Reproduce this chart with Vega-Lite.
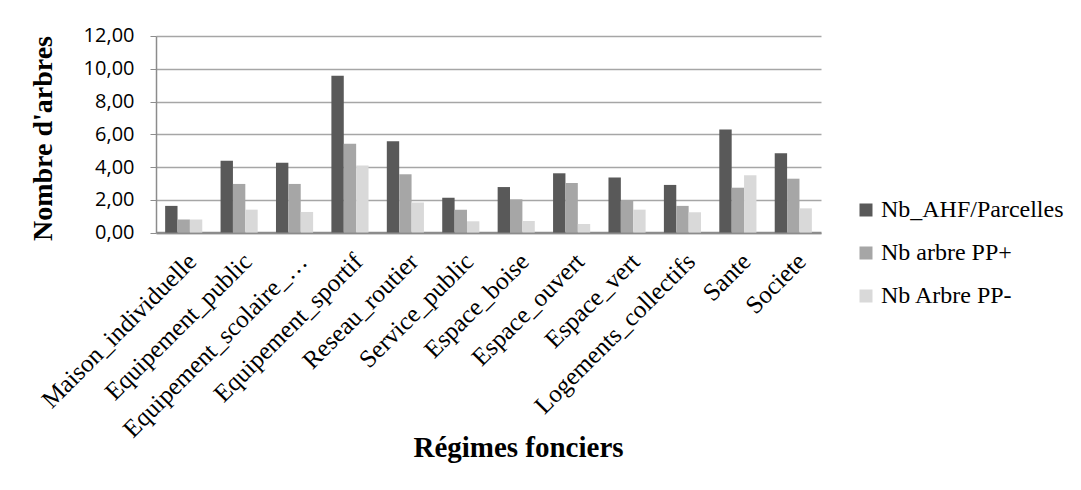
{
  "$schema": "https://vega.github.io/schema/vega-lite/v6.json",
  "autosize": "none",
  "width": 665,
  "height": 196.6,
  "padding": {"left": 156, "top": 36, "right": 260, "bottom": 258},
  "background": "white",
  "data": {
    "values": [
      {"cat": "Maison_individuelle", "serie": "Nb_AHF/Parcelles", "v": 1.63},
      {"cat": "Maison_individuelle", "serie": "Nb arbre PP+", "v": 0.80},
      {"cat": "Maison_individuelle", "serie": "Nb Arbre PP-", "v": 0.80},
      {"cat": "Equipement_public", "serie": "Nb_AHF/Parcelles", "v": 4.39},
      {"cat": "Equipement_public", "serie": "Nb arbre PP+", "v": 2.97},
      {"cat": "Equipement_public", "serie": "Nb Arbre PP-", "v": 1.40},
      {"cat": "Equipement_scolaire_…", "serie": "Nb_AHF/Parcelles", "v": 4.27},
      {"cat": "Equipement_scolaire_…", "serie": "Nb arbre PP+", "v": 2.97},
      {"cat": "Equipement_scolaire_…", "serie": "Nb Arbre PP-", "v": 1.26},
      {"cat": "Equipement_sportif", "serie": "Nb_AHF/Parcelles", "v": 9.57},
      {"cat": "Equipement_sportif", "serie": "Nb arbre PP+", "v": 5.43},
      {"cat": "Equipement_sportif", "serie": "Nb Arbre PP-", "v": 4.09},
      {"cat": "Reseau_routier", "serie": "Nb_AHF/Parcelles", "v": 5.57},
      {"cat": "Reseau_routier", "serie": "Nb arbre PP+", "v": 3.56},
      {"cat": "Reseau_routier", "serie": "Nb Arbre PP-", "v": 1.83},
      {"cat": "Service_public", "serie": "Nb_AHF/Parcelles", "v": 2.12},
      {"cat": "Service_public", "serie": "Nb arbre PP+", "v": 1.40},
      {"cat": "Service_public", "serie": "Nb Arbre PP-", "v": 0.69},
      {"cat": "Espace_boise", "serie": "Nb_AHF/Parcelles", "v": 2.78},
      {"cat": "Espace_boise", "serie": "Nb arbre PP+", "v": 2.03},
      {"cat": "Espace_boise", "serie": "Nb Arbre PP-", "v": 0.71},
      {"cat": "Espace_ouvert", "serie": "Nb_AHF/Parcelles", "v": 3.62},
      {"cat": "Espace_ouvert", "serie": "Nb arbre PP+", "v": 3.03},
      {"cat": "Espace_ouvert", "serie": "Nb Arbre PP-", "v": 0.53},
      {"cat": "Espace_vert", "serie": "Nb_AHF/Parcelles", "v": 3.37},
      {"cat": "Espace_vert", "serie": "Nb arbre PP+", "v": 1.93},
      {"cat": "Espace_vert", "serie": "Nb Arbre PP-", "v": 1.40},
      {"cat": "Logements_collectifs", "serie": "Nb_AHF/Parcelles", "v": 2.91},
      {"cat": "Logements_collectifs", "serie": "Nb arbre PP+", "v": 1.63},
      {"cat": "Logements_collectifs", "serie": "Nb Arbre PP-", "v": 1.24},
      {"cat": "Sante", "serie": "Nb_AHF/Parcelles", "v": 6.30},
      {"cat": "Sante", "serie": "Nb arbre PP+", "v": 2.74},
      {"cat": "Sante", "serie": "Nb Arbre PP-", "v": 3.50},
      {"cat": "Societe", "serie": "Nb_AHF/Parcelles", "v": 4.84},
      {"cat": "Societe", "serie": "Nb arbre PP+", "v": 3.29},
      {"cat": "Societe", "serie": "Nb Arbre PP-", "v": 1.48}
    ]
  },
  "mark": {"type": "bar"},
  "encoding": {
    "x": {
      "field": "cat",
      "type": "nominal",
      "sort": null,
      "scale": {"paddingInner": 0.33, "paddingOuter": 0.165},
      "axis": {
        "title": "Régimes fonciers",
        "titleFont": "Liberation Serif",
        "titleFontSize": 29,
        "titleFontWeight": "bold",
        "titleColor": "black",
        "titleX": 362,
        "titleY": 215,
        "titleBaseline": "middle",
        "labelAngle": -45,
        "labelFont": "Liberation Serif",
        "labelFontSize": 25,
        "labelColor": "black",
        "labelPadding": 16,
        "labelLimit": 400,
        "ticks": false,
        "domainColor": "#8c8c8c",
        "domainWidth": 2.5
      }
    },
    "xOffset": {"field": "serie", "type": "nominal", "sort": ["Nb_AHF/Parcelles", "Nb arbre PP+", "Nb Arbre PP-"]},
    "y": {
      "field": "v",
      "type": "quantitative",
      "scale": {"domain": [0, 12]},
      "axis": {
        "title": "Nombre d'arbres",
        "titleFont": "Liberation Serif",
        "titleFontSize": 28,
        "titleFontWeight": "bold",
        "titleColor": "black",
        "titleX": -113,
        "titleY": 102,
        "titleBaseline": "middle",
        "values": [0, 2, 4, 6, 8, 10, 12],
        "labelExpr": "replace(format(datum.value, '.2f'), '.', ',')",
        "labelFont": "Open Sans",
        "labelFontSize": 20,
        "labelColor": "black",
        "labelPadding": 16,
        "tickSize": 6,
        "tickColor": "#8c8c8c",
        "domainColor": "#8c8c8c",
        "domainWidth": 1.5,
        "grid": true,
        "gridColor": "#a6a6a6",
        "gridWidth": 1.3
      }
    },
    "color": {
      "field": "serie",
      "type": "nominal",
      "sort": ["Nb_AHF/Parcelles", "Nb arbre PP+", "Nb Arbre PP-"],
      "scale": {"range": ["#595959", "#a6a6a6", "#d9d9d9"]},
      "legend": {
        "title": null,
        "orient": "none",
        "legendX": 698,
        "legendY": 162,
        "symbolType": "square",
        "symbolSize": 169,
        "symbolStrokeWidth": 0,
        "labelFont": "Liberation Serif",
        "labelFontSize": 24,
        "labelColor": "black",
        "labelOffset": 3,
        "rowPadding": 19,
        "labelLimit": 300
      }
    }
  },
  "config": {
    "view": {"stroke": null},
    "legend": {"labelFont": "Liberation Serif"}
  }
}
